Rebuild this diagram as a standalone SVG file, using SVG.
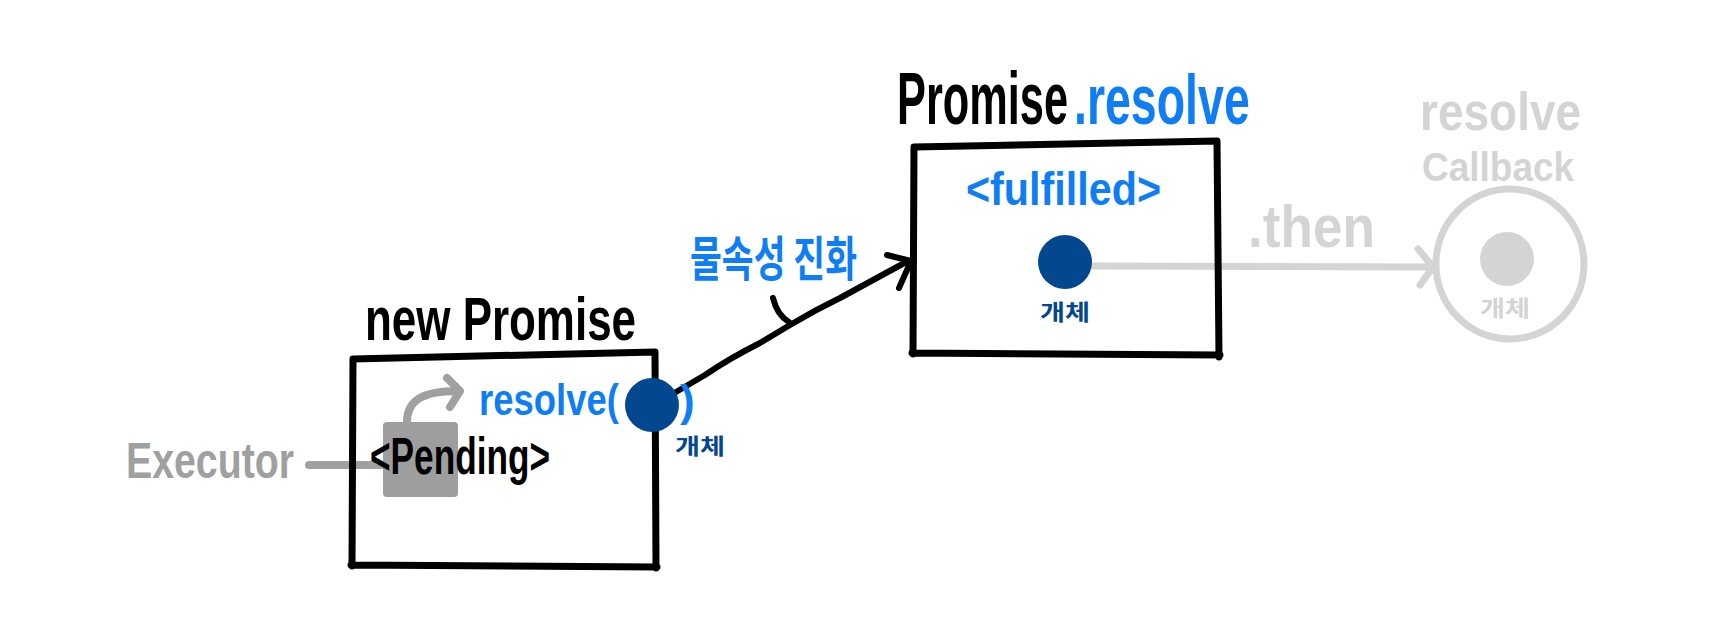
<svg xmlns="http://www.w3.org/2000/svg" width="1718" height="630" viewBox="0 0 1718 630">
<style>
.lat{font-family:"Liberation Sans","Noto Sans",Arial,sans-serif;font-weight:bold}
.kr{font-family:"Noto Sans CJK KR","Noto Sans",sans-serif;font-weight:bold}
.box{fill:none;stroke:#000;stroke-width:7;stroke-linecap:round;stroke-linejoin:round}
.blk{fill:none;stroke:#000;stroke-width:6;stroke-linecap:round;stroke-linejoin:round}
.lg{fill:none;stroke:#d4d4d4;stroke-width:7;stroke-linecap:round;stroke-linejoin:round}
.dg{fill:none;stroke:#a0a0a0;stroke-width:8;stroke-linecap:round;stroke-linejoin:round}
.blue{fill:#0f7ef5}
.navy{fill:#03478f}
</style>
<rect width="1718" height="630" fill="#fff"/>

<g id="connectors">
  <path class="dg" d="M309,465 L392,465"/>
  <path class="blk" d="M676,392 L705,375 Q730,358 760,343 L790,325 Q815,310 840,298 L908,261"/>
  <path class="blk" d="M887,255 L911,261 L899,288"/>
  <path class="blk" d="M773,298 Q777,315 789,322"/>
  <path class="lg" d="M1092,266 L1432,267"/>
  <path class="lg" d="M1418,249 L1433,267 L1420,285"/>
</g>

<g id="executor">
  <text class="lat" x="126" y="478" font-size="50" fill="#a0a0a0" textLength="168" lengthAdjust="spacingAndGlyphs">Executor</text>
</g>

<g id="new-promise">
  <text class="lat" x="365" y="340" font-size="62" fill="#000" textLength="271" lengthAdjust="spacingAndGlyphs">new Promise</text>
  <path class="box" d="M353,359 L655,352 M655,352 L656,568 M351,565 L657,567 M353,359 L352,566"/>
  <rect x="383" y="422" width="75" height="75" rx="4" fill="#9e9e9e"/>
  <path class="dg" d="M407,422 C407,402 420,391 458,391"/>
  <path class="dg" d="M447,378 L460,391 L450,407"/>
  <text class="lat" x="370" y="474" font-size="52" fill="#000" textLength="180" lengthAdjust="spacingAndGlyphs">&lt;Pending&gt;</text>
  <text class="lat blue" x="479" y="415" font-size="44" textLength="140" lengthAdjust="spacingAndGlyphs">resolve(</text>
  <ellipse class="navy" cx="652" cy="405" rx="27" ry="27"/>
  <text class="lat blue" x="680" y="416" font-size="44">)</text>
  <text class="kr navy" x="675" y="454" font-size="22" textLength="50" lengthAdjust="spacingAndGlyphs">개체</text>
</g>

<g id="label-evolve">
  <text class="kr blue" x="690" y="276" font-size="48" textLength="167" lengthAdjust="spacingAndGlyphs">물속성 진화</text>
</g>

<g id="promise-resolve">
  <text class="lat" transform="translate(897,124) scale(0.985,1.7)" x="0" y="0" font-size="44" fill="#000">Promise</text>
  <text class="lat blue" transform="translate(1074,124) scale(1,1.5)" x="0" y="0" font-size="46.5">.resolve</text>
  <path class="box" d="M914,147 L1217,141 M1217,141 L1219,357 M912,353 L1220,355 M914,147 L913,354"/>
  <text class="lat blue" x="966" y="205" font-size="46" textLength="195" lengthAdjust="spacingAndGlyphs">&lt;fulfilled&gt;</text>
  <ellipse class="navy" cx="1065" cy="262" rx="27" ry="27"/>
  <text class="kr navy" x="1040" y="320" font-size="22" textLength="50" lengthAdjust="spacingAndGlyphs">개체</text>
</g>

<g id="then-label">
  <text class="lat" x="1248" y="247" font-size="60" fill="#d4d4d4" textLength="127" lengthAdjust="spacingAndGlyphs">.then</text>
</g>

<g id="resolve-callback">
  <text class="lat" transform="translate(1420,130) scale(1,1.15)" x="0" y="0" font-size="46" fill="#d4d4d4">resolve</text>
  <text class="lat" transform="translate(1422,181) scale(1,1.1)" x="0" y="0" font-size="37" fill="#d4d4d4">Callback</text>
  <ellipse class="lg" cx="1510" cy="264" rx="74" ry="75"/>
  <ellipse cx="1507" cy="259" rx="27" ry="27" fill="#d4d4d4"/>
  <text class="kr" x="1480" y="316" font-size="22" fill="#d4d4d4" textLength="50" lengthAdjust="spacingAndGlyphs">개체</text>
</g>
</svg>
